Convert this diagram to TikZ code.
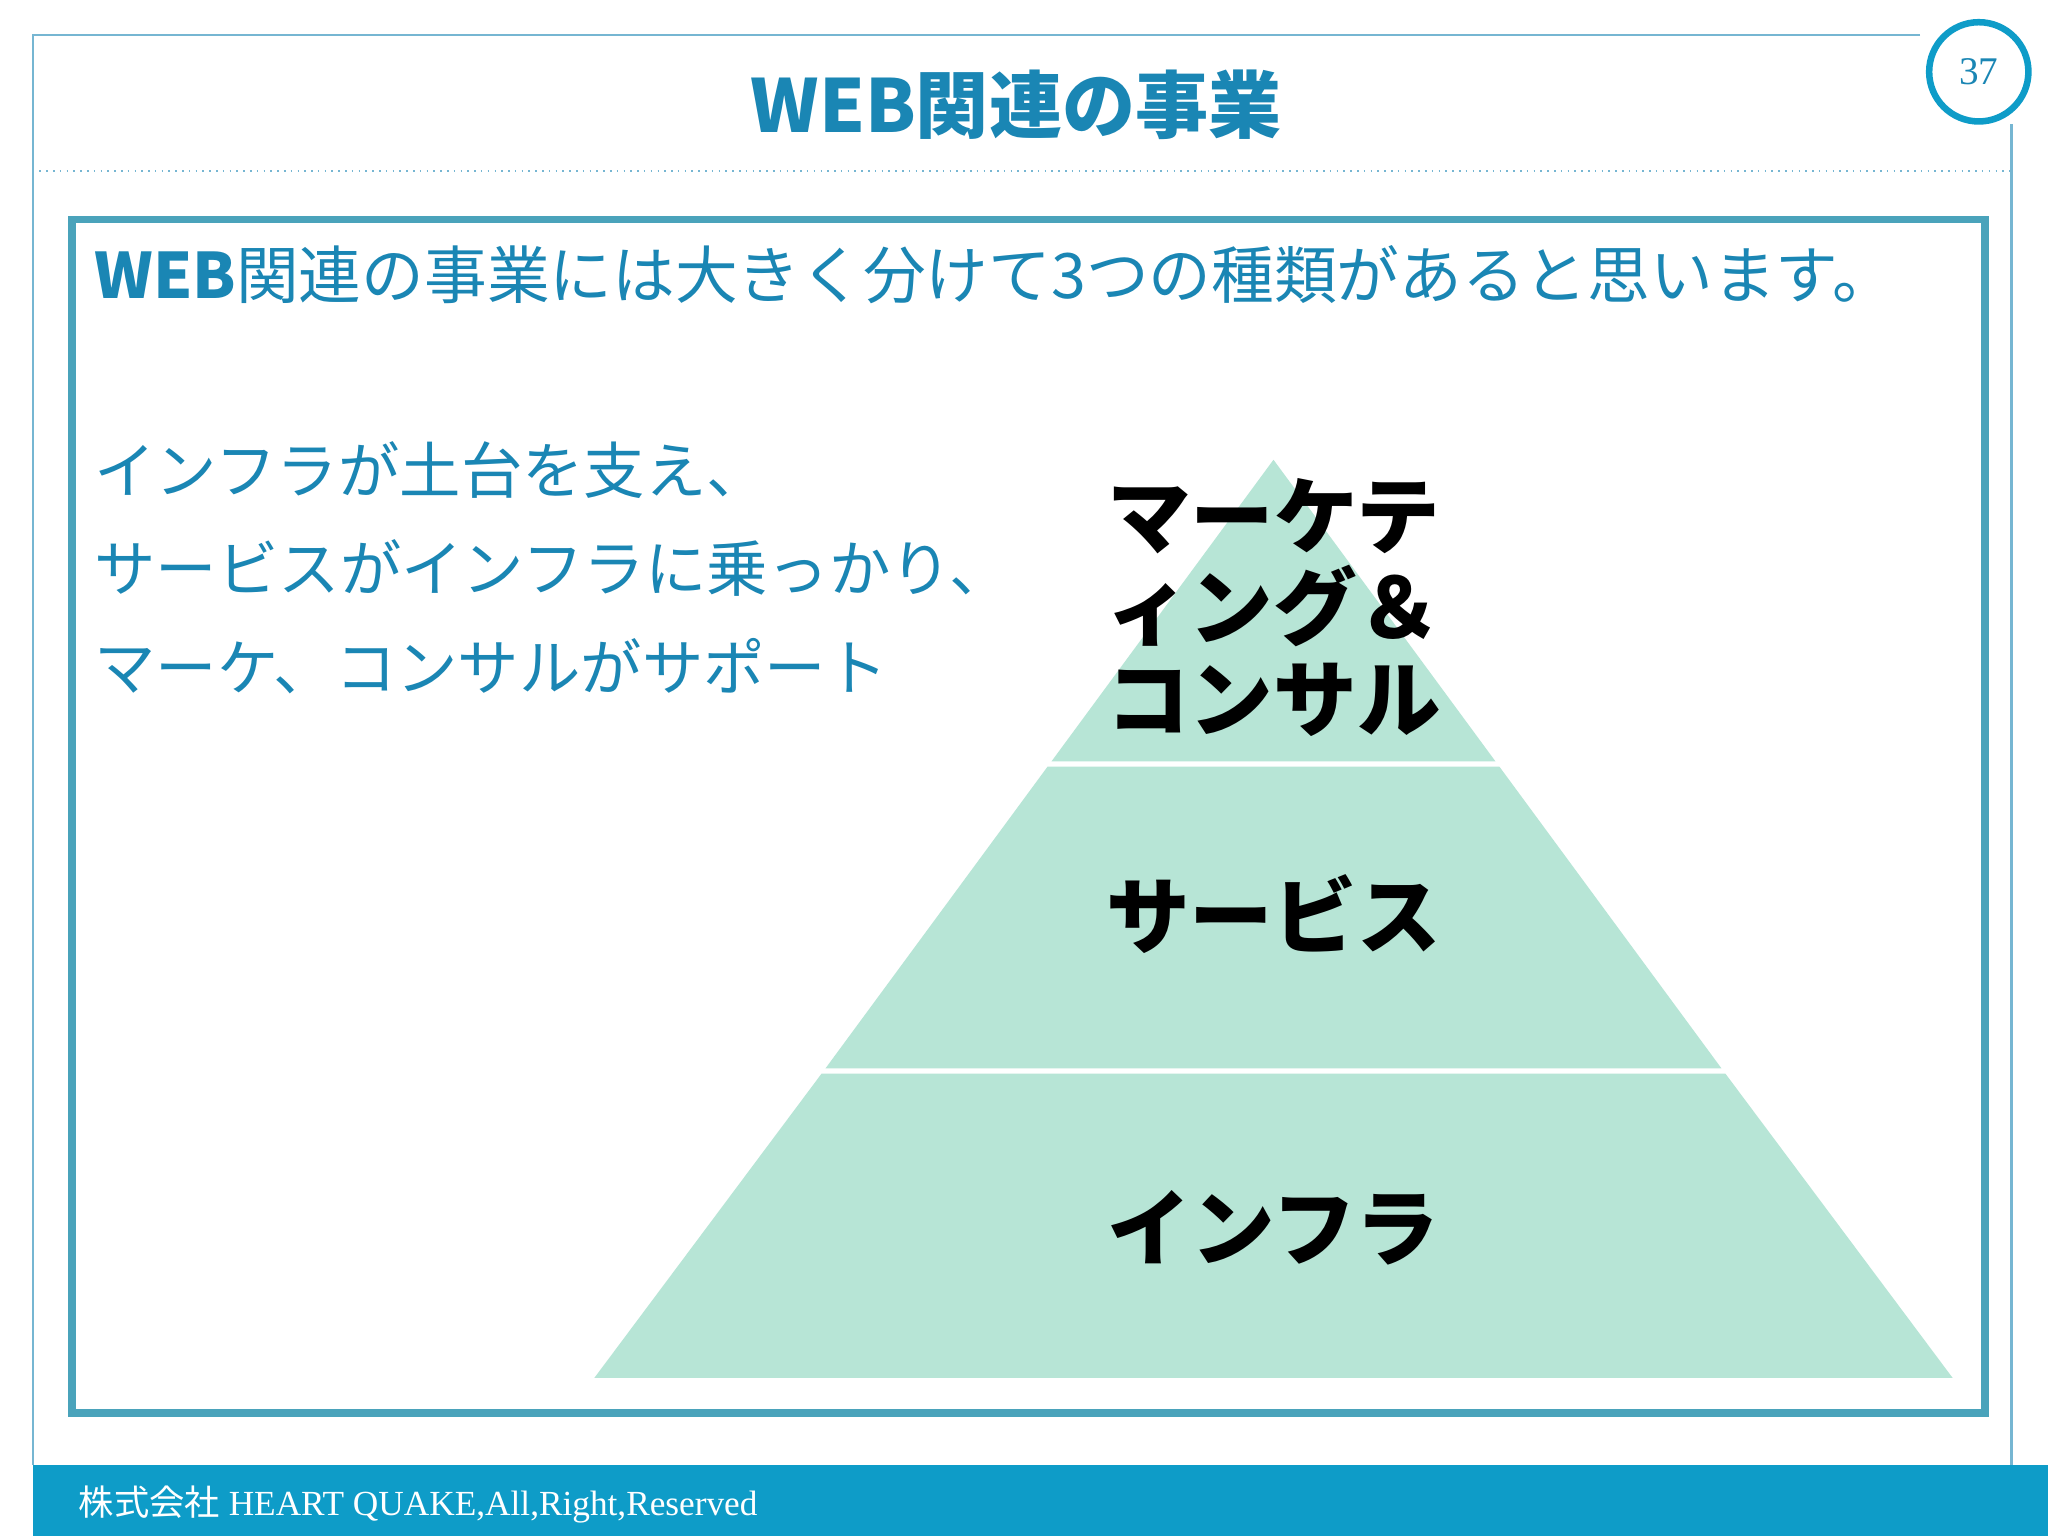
\documentclass[tikz,border=0pt]{standalone}
\usepackage{fontspec}
\setmainfont{Liberation Serif}
\newfontfamily\cjk{Noto Sans CJK JP}
\definecolor{teal1}{HTML}{1A86B4}
\definecolor{boxc}{HTML}{4AA3BB}
\definecolor{foot}{HTML}{0E9CC8}
\definecolor{pyr}{HTML}{B7E5D6}
\tikzset{lbl/.style={font=\cjk\bfseries\fontsize{32}{35}\selectfont,text=black,align=center},
 blue/.style={text=teal1,anchor=west,inner sep=0pt}}
\begin{document}
\begin{tikzpicture}[x=0.5pt,y=-0.5pt]
\useasboundingbox[fill=white] (0,0) rectangle (1568,1176);
\draw[teal1!60,line width=0.8pt] (1470,27) -- (25,27) -- (25,1122);
\draw[teal1!60,line width=0.8pt] (1540,95) -- (1540,1122);
\draw[teal1!60,dotted,line width=0.6pt] (25,131) -- (1540,131);
\node[circle,draw=foot,line width=2.5pt,minimum size=38pt,fill=white] (pg) at (1515,55) {};
\node[text=teal1,font=\fontsize{15}{18}\selectfont] at (pg) {37};
\node[text=teal1,font=\cjk\bfseries\fontsize{28}{34}\selectfont] (title) at (778,80) {WEB関連の事業};
\draw[boxc,line width=3pt] (55,168) rectangle (1520,1082);
\node[blue,font=\cjk\fontsize{24}{28}\selectfont] (intro) at (72,210) {\textbf{WEB}関連の事業には大きく分けて3つの種類があると思います。};
\node[blue,font=\cjk\fontsize{23.5}{26}\selectfont] (l1) at (72,360) {インフラが土台を支え、};
\node[blue,font=\cjk\fontsize{23.5}{26}\selectfont] (l2) at (72,435) {サービスがインフラに乗っかり、};
\node[blue,font=\cjk\fontsize{23.5}{26}\selectfont] (l3) at (72,510) {マーケ、コンサルがサポート};
\fill[pyr] (975,352) -- (1145,583) -- (805,583) -- cycle;
\fill[pyr] (802,587) -- (1148,587) -- (1318,818) -- (632,818) -- cycle;
\fill[pyr] (629,822) -- (1321,822) -- (1495,1055) -- (455,1055) -- cycle;
\node[lbl] (top) at (975,465) {マーケテ\\ィング＆\\コンサル};
\node[lbl] (mid) at (975,700) {サービス};
\node[lbl] (bot) at (975,940) {インフラ};
\fill[foot] (25,1122) rectangle (1568,1176);
\node[anchor=west,text=white,font=\fontsize{13.5}{16}\selectfont,inner sep=0pt] (ft) at (60,1152) {{\cjk 株式会社} HEART QUAKE,All,Right,Reserved};
\end{tikzpicture}
\end{document}
